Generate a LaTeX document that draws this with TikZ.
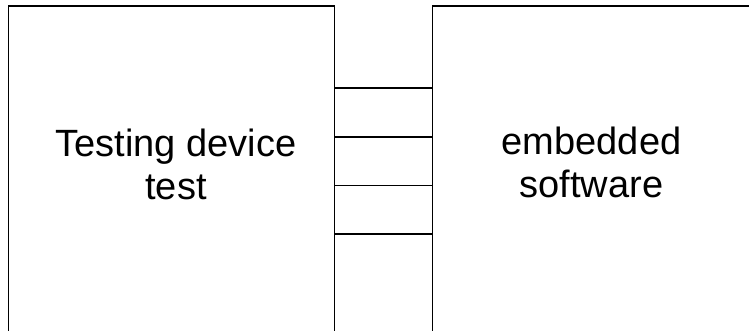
\documentclass[tikz,border=0pt]{standalone}
\usepackage{fontspec}
\setmainfont{Liberation Sans}
\begin{document}
\begin{tikzpicture}[x=1pt,y=1pt,
  unit/.style={draw=black, line width=1.3pt, fill=none, inner sep=0pt, minimum width=#1},
  lbl/.style={font=\fontsize{38}{43}\selectfont, align=center, inner sep=0pt},
  wire/.style={draw=black, line width=1.3pt}]
\useasboundingbox (0,0) rectangle (749,331);
\clip (0,0) rectangle (749,331);
\node[unit=326pt, minimum height=400pt, anchor=north west] (dev) at (7.5,325.5) {};
\node[unit=400pt, minimum height=400pt, anchor=north west] (sw) at (431.5,325.5) {};
\node[lbl] (devtext) at (176,166.3) {Testing device\\test};
\node[lbl] (swtext) at (591.5,169) {embedded\\software};
\foreach \y in {243,194,145.5,97} {
  \draw[wire] (dev.east |- 0,\y) -- (sw.west |- 0,\y);
}
\end{tikzpicture}
\end{document}
